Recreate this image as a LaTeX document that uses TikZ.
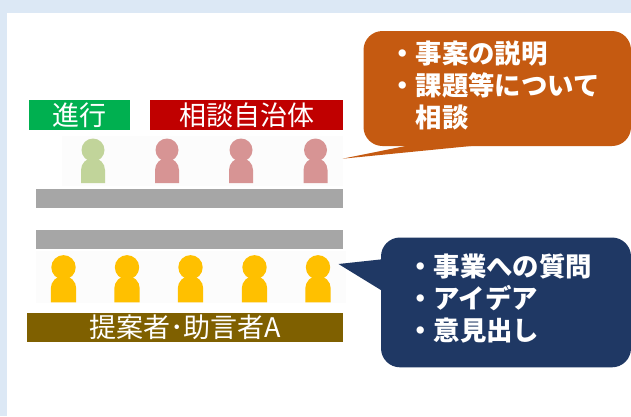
\documentclass[tikz,border=0pt]{standalone}
\usepackage{fontspec}
\setmainfont{Noto Sans CJK JP}
\usetikzlibrary{positioning}
\definecolor{paleblue}{HTML}{DCE8F5}
\definecolor{talkgreen}{HTML}{00B050}
\definecolor{talkred}{HTML}{C00000}
\definecolor{talkbrown}{HTML}{7F6000}
\definecolor{talkorange}{HTML}{C55A11}
\definecolor{talknavy}{HTML}{1F3864}
\definecolor{deskgray}{HTML}{A6A6A6}
\definecolor{softgreen}{HTML}{C1D49A}
\definecolor{softred}{HTML}{D79494}
\definecolor{softyellow}{HTML}{FFC000}
\tikzset{
    banner/.style={inner sep=0pt, text=white, font=\fontsize{27pt}{27pt}\selectfont},
    callout/.style={text=white, align=left, inner sep=0pt, font=\fontsize{26.4pt}{32pt}\selectfont\bfseries},
    desk/.style={fill=deskgray},
}
% one person: x, y of the feet, colour, size
\newcommand{\person}[4]{
    \begin{scope}[shift={(#1, #2)}, scale=#4]
        \fill[#3] (0, -33) circle (11.5);
        \fill[#3] (-12, 0) -- (-12, -13) arc[start angle=180, end angle=360, radius=12] -- (12, 0) -- cycle;
    \end{scope}
}
\begin{document}
\begin{tikzpicture}[x=1pt, y=-1pt]
    \useasboundingbox (0, 0) rectangle (631, 416);
    \fill[paleblue] (0, 0) rectangle (631, 416);
    \fill[white] (7, 13) rectangle (631, 416);

    % Upper row
    \fill[black!1] (62, 136) rectangle (343, 186);
    \node[banner, fill=talkgreen, minimum width=101, minimum height=30] (chair) at (79.5, 115) {進行};
    \node[banner, fill=talkred, minimum width=193, minimum height=30] (towns) at (246.5, 115) {相談自治体};
    \person{93}{183}{softgreen}{1}
    \person{167}{183}{softred}{1}
    \person{241}{183}{softred}{1}
    \person{315.5}{183}{softred}{1}
    \fill[desk] (36, 189) rectangle (343, 208);

    % Lower row
    \fill[desk] (36, 230) rectangle (343, 249);
    \fill[black!1] (36, 251) rectangle (346, 303);
    \foreach \px in {63.5, 127, 190.5, 254.5, 318}
        \person{\px}{302.3}{softyellow}{1.06}
    \node[banner, fill=talkbrown, minimum width=316, minimum height=29] (panel) at (185, 327.5) {提案者･助言者A};

    % Callouts
    \fill[talkorange, rounded corners=19] (363.5, 31) rectangle (631, 146);
    \fill[talkorange] (342.5, 158.7) -- (408, 145.5) -- (476, 145.5) -- cycle;
    \fill[talknavy, rounded corners=19] (381, 237.5) rectangle (631, 367.3);
    \fill[talknavy] (338.5, 264) -- (382, 259.3) -- (382, 290.7) -- cycle;
    \node[callout, anchor=north west] (asks) at (389, 40.5) {・事案の説明\\・課題等について\\\hspace{1em}相談};
    \node[callout, anchor=north west] (answers) at (407, 253.5) {・事業への質問\\・アイデア\\・意見出し};
\end{tikzpicture}
\end{document}
